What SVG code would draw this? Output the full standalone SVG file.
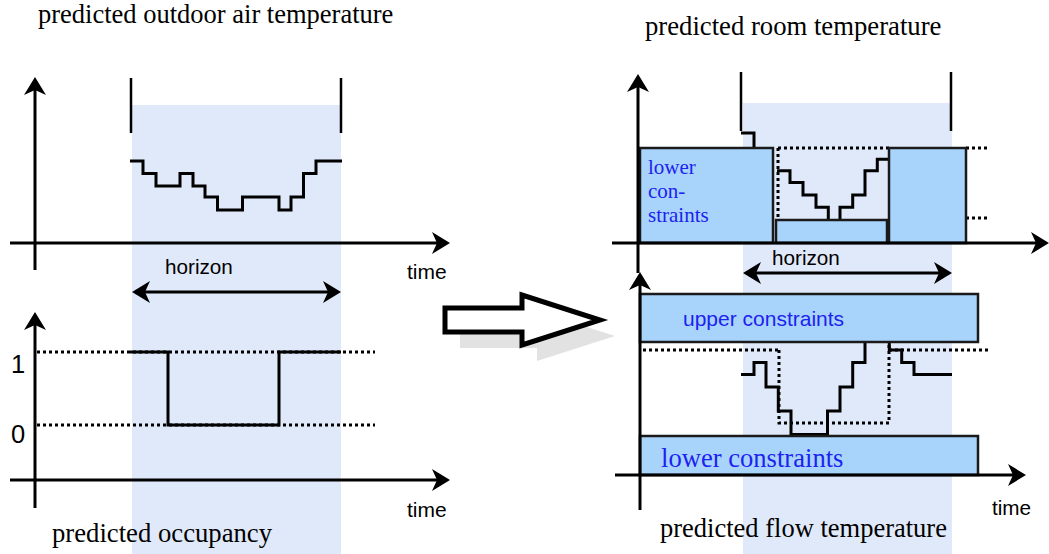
<svg xmlns="http://www.w3.org/2000/svg" width="1049" height="554" viewBox="0 0 1049 554">
<style>
.serif{font-family:"Liberation Serif","Times New Roman",serif;fill:#000}
.sans{font-family:"Liberation Sans",Arial,sans-serif;fill:#000}
.blue{fill:#1c22f0}
.axis{stroke:#000;stroke-width:3;fill:none}
.curve{stroke:#000;stroke-width:3;fill:none;stroke-linejoin:miter}
.bar{stroke:#000;stroke-width:2.5;fill:none}
.dot{stroke:#000;stroke-width:3;fill:none;stroke-dasharray:3 3}
.shade{fill:#e0e9f9}
.box{fill:#a8d4fc;stroke:#1a1a1a;stroke-width:2.5}
</style>
<defs>
<marker id="ah" markerUnits="userSpaceOnUse" viewBox="0 0 18 22" refX="15" refY="11" markerWidth="18" markerHeight="22" orient="auto-start-reverse">
<path d="M0,0 L18,11 L0,22 L5,11 z" fill="#000"/>
</marker>
</defs>
<rect width="1049" height="554" fill="#fff"/>

<g id="shading">
<rect class="shade" x="132" y="105" width="209" height="449"/>
<rect class="shade" x="743" y="103" width="209" height="451"/>
</g>

<g id="outdoor-panel">
<text class="serif" x="38" y="23" font-size="26.5">predicted outdoor air temperature</text>
<line class="bar" x1="131" y1="78" x2="131" y2="133"/>
<line class="bar" x1="341" y1="78" x2="341" y2="133"/>
<path class="curve" d="M130,161 H143 V173.5 H156 V186 H180 V173.5 H193 V186 H205 V197 H217.5 V210 H242.5 V197 H279 V210 H291 V197 H303.5 V173.5 H316 V161 H342"/>
<text class="sans" x="165" y="274" font-size="20.7">horizon</text>
<text class="sans" x="407" y="279" font-size="21">time</text>
</g>

<g id="occupancy-panel">
<text class="sans" x="11" y="373" font-size="25.5">1</text>
<text class="sans" x="11" y="443" font-size="25.5">0</text>
<line class="dot" x1="37" y1="352" x2="375" y2="352"/>
<line class="dot" x1="37" y1="425" x2="375" y2="425"/>
<path class="curve" d="M130,352 H168 V425 H279 V352 H341"/>
<text class="sans" x="407" y="517" font-size="21">time</text>
<text class="serif" x="52" y="542" font-size="26.7">predicted occupancy</text>
</g>

<g id="transform-arrow">
<path d="M460,324 H537 V311 L615,336 L537,361 V348 H460 z" fill="#e2e2e2"/>
<path d="M445,308 H522 V295 L600,320 L522,345 V332 H445 z" fill="#fff" stroke="#000" stroke-width="5" stroke-linejoin="miter"/>
</g>

<g id="room-panel">
<text class="serif" x="645" y="35" font-size="26.7">predicted room temperature</text>
<line class="bar" x1="741" y1="72" x2="741" y2="131"/>
<line class="bar" x1="951" y1="72" x2="951" y2="131"/>
<path class="curve" d="M741,133 H754 V150"/>
<line class="dot" x1="778" y1="148" x2="889" y2="148"/>
<line class="dot" x1="778" y1="148" x2="778" y2="220"/>
<line class="dot" x1="966" y1="148" x2="988" y2="148"/>
<line class="dot" x1="966" y1="218" x2="988" y2="218"/>
<path class="curve" d="M777,170.7 H790 V182.5 H803 V195 H816 V207.3 H828.3 V220"/>
<path class="curve" d="M840,220 V207.3 H852.7 V195 H865 V170.7 H877.3 V159.3 H888"/>
<g id="room-lower-left"><rect class="box" x="640" y="148" width="133" height="95"/>
<text class="serif blue" x="648" y="174" font-size="21">lower</text>
<text class="serif blue" x="648" y="198" font-size="21">con-</text>
<text class="serif blue" x="648" y="222" font-size="21">straints</text></g>
<rect id="room-lower-mid" class="box" x="776" y="220" width="111" height="23"/>
<rect id="room-lower-right" class="box" x="889" y="148" width="77" height="95"/>
<text class="sans" x="772" y="265" font-size="20.7">horizon</text>
</g>

<g id="flow-panel">
<line class="dot" x1="643" y1="350" x2="779" y2="350"/>
<path class="dot" d="M779,350 V423 H889 V344"/>
<line class="dot" x1="889" y1="350" x2="988" y2="350"/>
<path class="curve" d="M741,374.5 H754 V362.5 H766 V387 H778.3 V411 H791 V434.5 H827.5 V411 H840 V387 H852.7 V362.5 H865 V342"/>
<path class="curve" d="M889.3,342 V350 H901.7 V362.5 H914 V374.5 H952"/>
<g id="upper-constraints"><rect class="box" x="640" y="294" width="338" height="48"/>
<text class="sans blue" x="683" y="326" font-size="21">upper constraints</text></g>
<g id="lower-constraints"><rect class="box" x="640" y="436" width="338" height="39"/>
<text class="serif blue" x="661" y="467" font-size="26.6">lower constraints</text></g>
<text class="sans" x="992" y="515" font-size="20.7">time</text>
<text class="serif" x="660" y="537" font-size="26.5">predicted flow temperature</text>
</g>

<g id="connectors">
<line class="axis" x1="35" y1="270" x2="35" y2="80" marker-end="url(#ah)"/>
<line class="axis" x1="10" y1="243" x2="447" y2="243" marker-end="url(#ah)"/>
<line class="axis" x1="135" y1="292" x2="338" y2="292" marker-start="url(#ah)" marker-end="url(#ah)"/>
<line class="axis" x1="35" y1="508" x2="35" y2="315" marker-end="url(#ah)"/>
<line class="axis" x1="10" y1="480" x2="447" y2="480" marker-end="url(#ah)"/>
<line class="axis" x1="638" y1="273" x2="638" y2="77" marker-end="url(#ah)"/>
<line class="axis" x1="612" y1="243" x2="1046" y2="243" marker-end="url(#ah)"/>
<line class="axis" x1="746" y1="273" x2="949" y2="273" marker-start="url(#ah)" marker-end="url(#ah)"/>
<line class="axis" x1="640" y1="510" x2="640" y2="275" marker-end="url(#ah)"/>
<line class="axis" x1="615" y1="475" x2="1023" y2="475" marker-end="url(#ah)"/>
</g>
</svg>
